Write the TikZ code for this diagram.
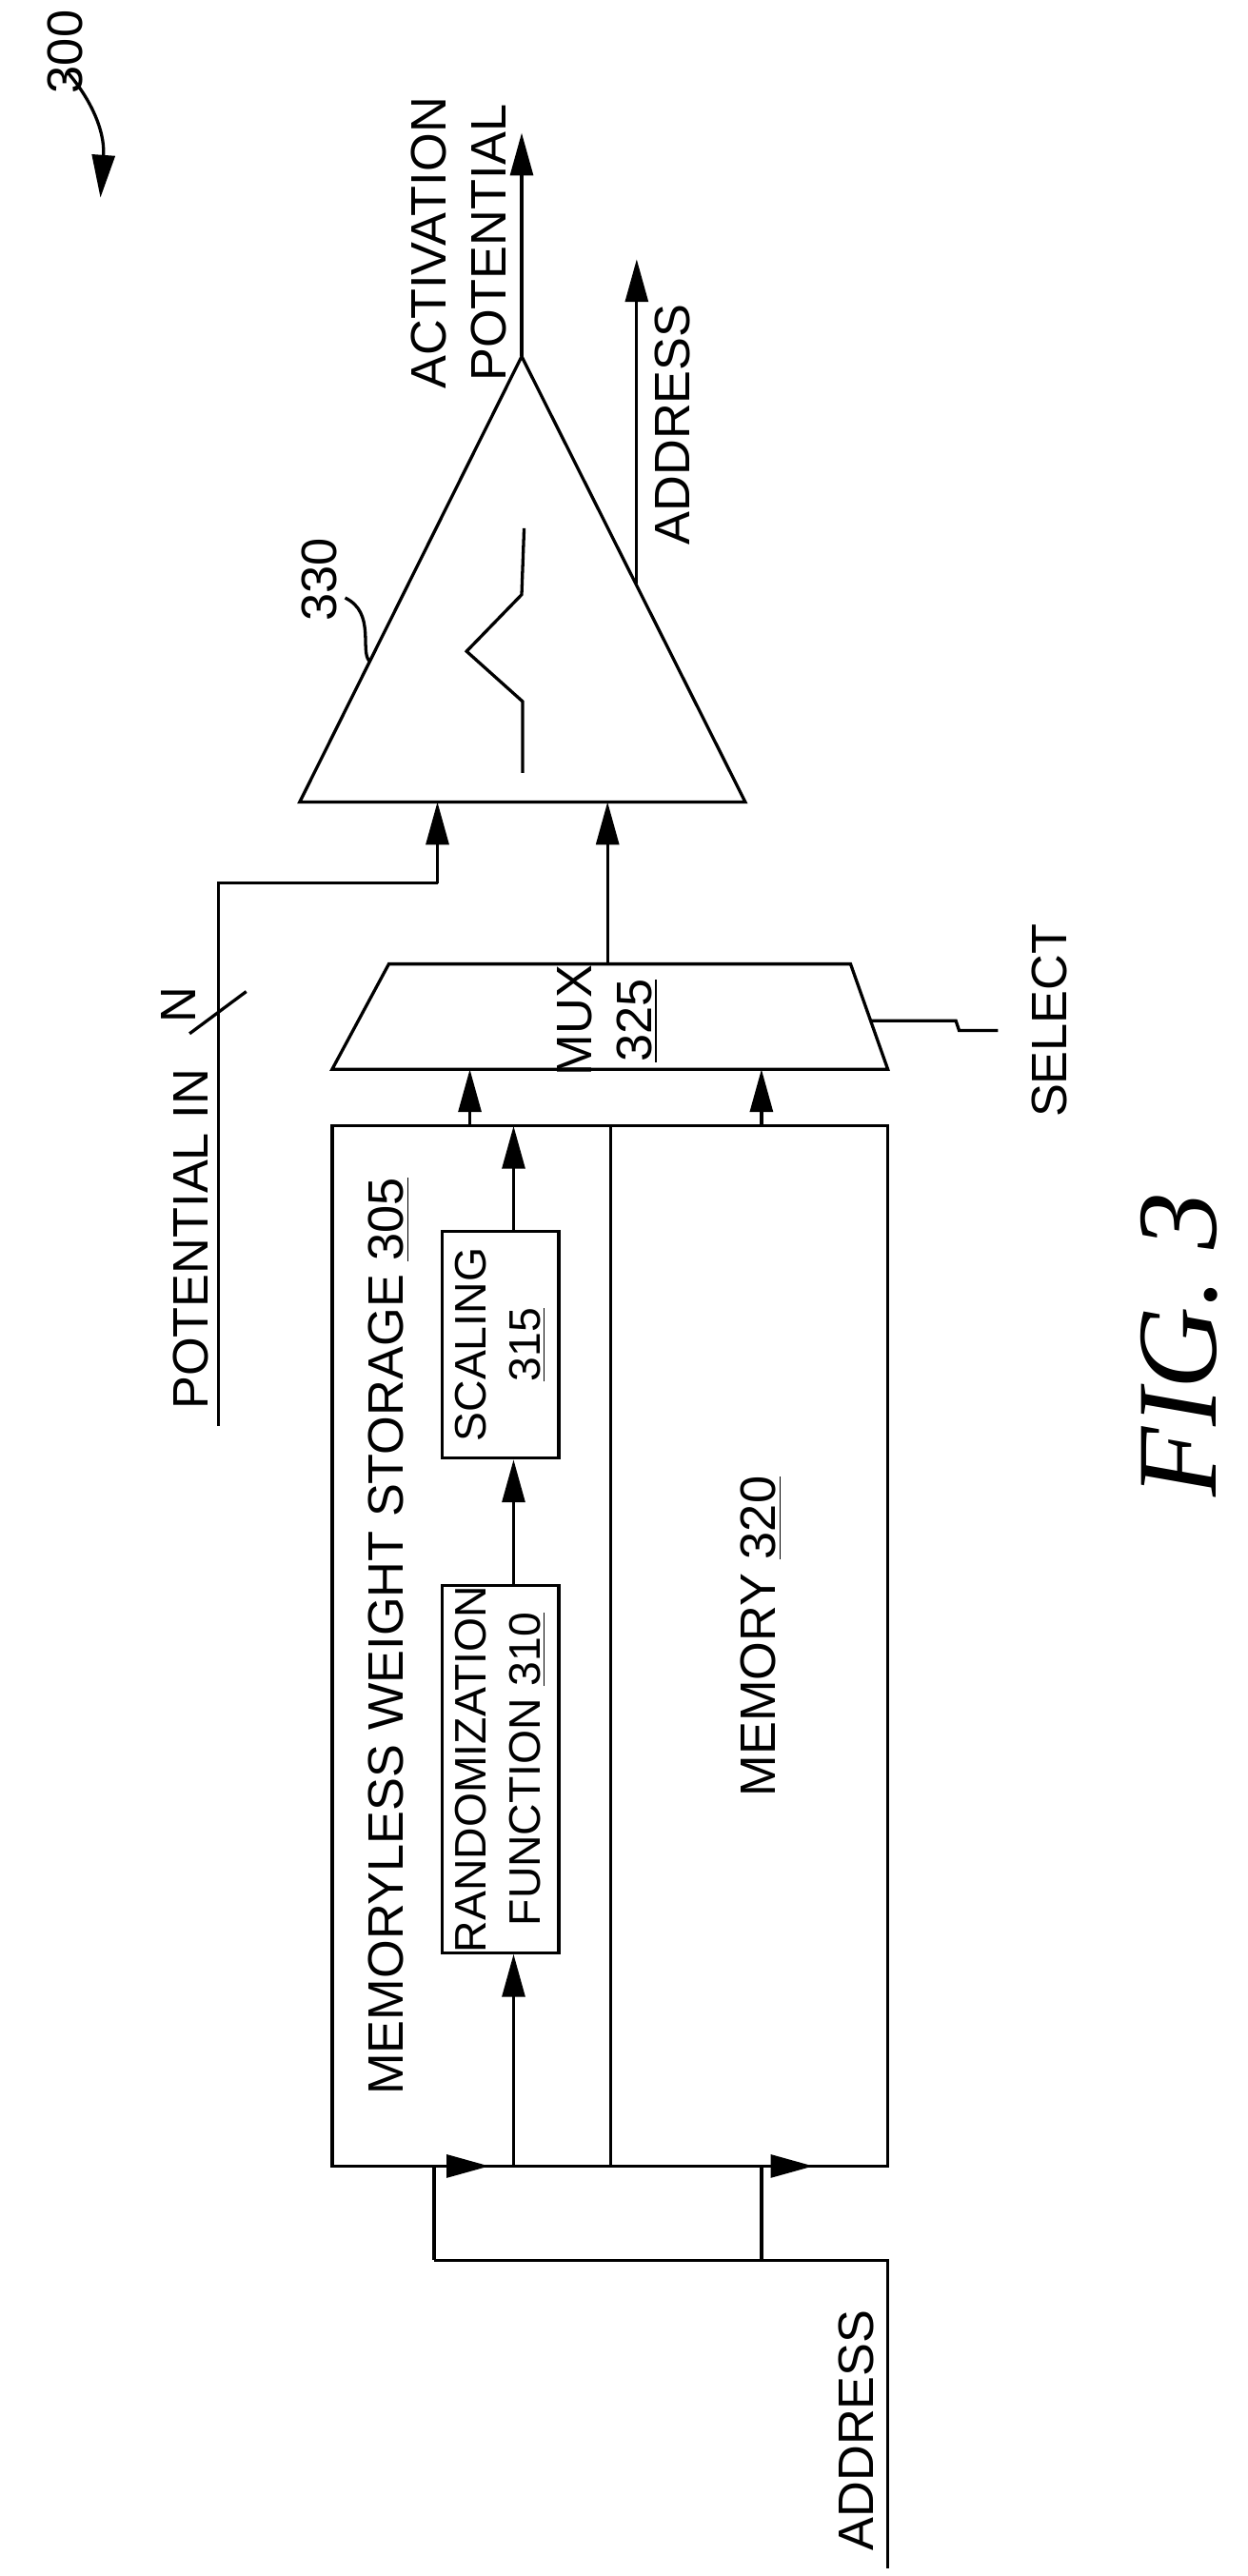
\documentclass[tikz,border=0pt]{standalone}
\usepackage{fontspec}
\setmainfont{Liberation Sans}
\newfontfamily\figfont{Liberation Serif}
\usetikzlibrary{arrows.meta}
\usetikzlibrary{shapes}

\begin{document}
\begin{tikzpicture}[x=0.02cm, y=-0.02cm, line width=1.1pt,
        lbl/.style={rotate=90, font=\fontsize{17.5}{21}\selectfont, inner sep=1pt, align=center},
        blk/.style={lbl, draw, inner sep=0pt, minimum height=1.44cm, font=\fontsize{15.5}{19}\selectfont},
        sig/.style={-{Triangle[length=15pt, width=8pt]}}]
        \useasboundingbox (0, 0) rectangle (770, 1590);
        % storage and memory
        \draw (205, 695) rectangle (548, 1337);
        \draw (377, 695) -- (377, 1337);
        \node[lbl] (stor) at (240, 1010) {MEMORYLESS WEIGHT STORAGE \underline{305}};
        \node[blk, minimum width=3.94cm] (rand) at (309, 1092) {RANDOMIZATION\\FUNCTION \underline{310}};
        \node[blk, minimum width=2.8cm] (scal) at (309, 830) {SCALING\\\underline{315}};
        \node[lbl] (mem) at (470, 1010) {MEMORY \underline{320}};
        \draw[sig] (317, 1337) -- (rand.west -| 317, 0);
        \draw[sig] (rand.east -| 317, 0) -- (scal.west -| 317, 0);
        \draw[sig] (scal.east -| 317, 0) -- (317, 695);
        % address in
        \coordinate (aend) at (548, 1585);
        \coordinate (acrn) at (548, 1395);
        \draw (aend) -- (acrn) -- (268, 1395);
        \draw[sig] (268, 1395) -- (268, 1337) -- (302, 1337);
        \draw[sig] (470, 1395) -- (470, 1337) -- (502, 1337);
        \node[lbl, anchor=south] (addrin) at (542, 1500) {ADDRESS};
        % mux
        \draw (205, 660) -- (240, 595) -- (525, 595) -- (548, 660) -- cycle;
        \node[lbl] (mux) at (375, 630) {MUX\\\underline{325}};
        \draw[sig] (290, 695) -- (290, 660);
        \draw[sig] (470, 695) -- (470, 660);
        \draw (537, 630) -- (590, 630) -- (592, 636) -- (616, 636);
        \node[lbl] (sel) at (648, 630) {SELECT};
        % neuron
        \draw (185, 495) -- (322, 220) -- (460, 495) -- cycle;
        \draw (322.6, 477) -- (322.6, 433) -- (288, 402) -- (322, 367) -- (323.5, 326);
        \node[lbl] (num) at (197, 358) {330};
        \draw (213, 369) .. controls (232, 378) and (222, 402) .. (228, 408);
        \draw[sig] (375, 595) -- (375, 495);
        \draw (135, 880) -- (135, 545) -- (270, 545);
        \draw[sig] (270, 545) -- (270, 495);
        \draw (117, 638) -- (152, 612);
        \node[lbl] (bus) at (110, 620) {N};
        \node[lbl] (pin) at (118, 765) {POTENTIAL IN};
        % outputs
        \draw[sig] (322, 220) -- (322, 82);
        \node[lbl] (act) at (283, 150) {ACTIVATION\\POTENTIAL};
        \draw[sig] (393, 360) -- (393, 160);
        \node[lbl] (addrout) at (415, 262) {ADDRESS};
        % labels
        \node[lbl] (ref) at (40, 32) {300};
        \draw[sig] (42, 45) .. controls (55, 60) and (65, 80) .. (62, 122);
        \node[rotate=90, font=\figfont\itshape\fontsize{40}{40}\selectfont] (fig) at (728, 830) {FIG. 3};
\end{tikzpicture}
\end{document}
